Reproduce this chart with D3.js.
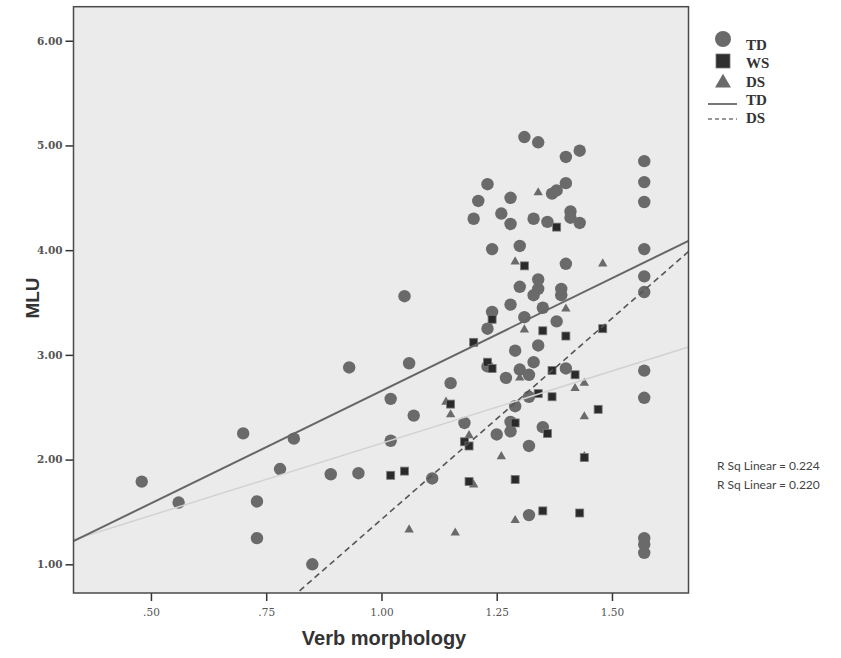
<!DOCTYPE html>
<html>
<head>
<meta charset="utf-8">
<script src="https://cdn.jsdelivr.net/npm/d3@7"></script>
<style>
  html, body { margin: 0; padding: 0; background: #ffffff; }
  svg { display: block; }
</style>
</head>
<body>
<svg id="chart" width="841" height="658"></svg>
<script>
// Verb morphology (x) against MLU (y) for three groups.
const tdPoints = [
  [0.48,1.79],[0.56,1.59],[0.70,2.25],[0.73,1.60],[0.73,1.25],[0.78,1.91],[0.81,2.20],
  [0.85,1.00],[0.89,1.86],[0.93,2.88],[0.95,1.87],[1.02,2.58],[1.02,2.18],[1.05,3.56],
  [1.06,2.92],[1.07,2.42],[1.11,1.82],[1.15,2.73],[1.18,2.35],[1.23,3.25],[1.23,2.89],
  [1.24,3.41],[1.25,2.24],[1.28,2.27],[1.28,3.48],[1.28,2.36],[1.29,3.04],[1.29,2.51],
  [1.30,2.86],[1.31,3.36],[1.32,2.81],[1.32,2.13],[1.32,2.60],[1.32,1.47],[1.27,2.78],
  [1.33,2.93],[1.34,3.09],[1.35,2.31],[1.35,3.45],[1.38,3.32],[1.40,2.87],[1.57,2.85],
  [1.57,2.59],[1.57,1.25],[1.57,1.19],[1.57,1.11],[1.31,5.08],[1.34,5.03],[1.40,4.89],
  [1.43,4.95],[1.57,4.85],[1.57,4.65],[1.57,4.46],[1.23,4.63],[1.40,4.64],[1.37,4.54],
  [1.38,4.57],[1.21,4.47],[1.28,4.50],[1.20,4.30],[1.26,4.35],[1.28,4.25],[1.33,4.30],
  [1.36,4.27],[1.41,4.37],[1.41,4.31],[1.43,4.26],[1.24,4.01],[1.30,4.04],[1.57,4.01],
  [1.40,3.87],[1.57,3.75],[1.57,3.60],[1.30,3.65],[1.34,3.72],[1.34,3.63],[1.33,3.57],
  [1.39,3.63],[1.39,3.57]
];
const wsPoints = [
  [1.02,1.85],[1.05,1.89],[1.24,3.34],[1.35,3.23],[1.40,3.18],[1.48,3.25],[1.20,3.12],
  [1.23,2.93],[1.24,2.87],[1.37,2.85],[1.42,2.81],[1.15,2.53],[1.34,2.63],[1.37,2.60],
  [1.47,2.48],[1.29,2.35],[1.36,2.25],[1.18,2.17],[1.19,2.13],[1.44,2.02],[1.19,1.79],
  [1.29,1.81],[1.35,1.51],[1.43,1.49],[1.31,3.85],[1.38,4.22]
];
const dsPoints = [
  [1.06,1.33],[1.16,1.30],[1.29,1.42],[1.40,3.44],[1.31,3.24],[1.30,2.78],[1.44,2.73],
  [1.42,2.68],[1.14,2.55],[1.15,2.43],[1.44,2.41],[1.19,2.23],[1.26,2.03],[1.44,2.03],
  [1.20,1.76],[1.34,4.55],[1.29,3.89],[1.48,3.87]
];

// Linear fit lines: [intercept, slope]
const fitTD = [0.507, 2.15];
const fitWS = [0.776, 1.38];
const fitDS = [-2.411, 3.84];

const xTicks = [0.50, 0.75, 1.00, 1.25, 1.50];
const xTickLabels = [".50", ".75", "1.00", "1.25", "1.50"];
const yTicks = [1, 2, 3, 4, 5, 6];
const yTickLabels = ["1.00", "2.00", "3.00", "4.00", "5.00", "6.00"];

const legendItems = ["TD", "WS", "DS", "TD", "DS"];
const rSqLabels = ["R Sq Linear = 0.224", "R Sq Linear = 0.220"];

const svg = d3.select("#chart");
const area = { left: 73.5, right: 688.5, top: 6.7, bottom: 593 };

const x = d3.scaleLinear().domain([0.332, 1.666]).range([area.left, area.right]);
const y = d3.scaleLinear().domain([0.726, 6.325]).range([area.bottom, area.top]);

svg.append("defs").append("clipPath").attr("id", "plotClip")
  .append("rect")
  .attr("x", area.left).attr("y", area.top)
  .attr("width", area.right - area.left).attr("height", area.bottom - area.top);

// plot background
svg.append("rect")
  .attr("x", area.left).attr("y", area.top)
  .attr("width", area.right - area.left).attr("height", area.bottom - area.top)
  .attr("fill", "#ebebeb");

// axes
const yAxis = d3.axisLeft(y).tickValues(yTicks).tickSize(8).tickPadding(3)
  .tickFormat((d, i) => yTickLabels[i]);
const gy = svg.append("g").attr("transform", `translate(${area.left},0)`).call(yAxis);
gy.select(".domain").remove();
gy.selectAll(".tick line").attr("stroke", "#333").attr("stroke-width", 1.5);
gy.selectAll(".tick text")
  .attr("font-family", "'DejaVu Serif', serif").attr("font-size", 10.5)
  .attr("font-weight", "bold").attr("fill", "#555");

const xAxis = d3.axisBottom(x).tickValues(xTicks).tickSize(8).tickPadding(8)
  .tickFormat((d, i) => xTickLabels[i]);
const gx = svg.append("g").attr("transform", `translate(0,${area.bottom})`).call(xAxis);
gx.select(".domain").remove();
gx.selectAll(".tick line").attr("stroke", "#333").attr("stroke-width", 1.5);
gx.selectAll(".tick text")
  .attr("font-family", "'DejaVu Serif', serif").attr("font-size", 10.5)
  .attr("fill", "#555");

// points
const pts = svg.append("g").attr("clip-path", "url(#plotClip)");
pts.selectAll("circle.td").data(tdPoints).join("circle")
  .attr("class", "td")
  .attr("cx", d => x(d[0])).attr("cy", d => y(d[1])).attr("r", 6.2)
  .attr("fill", "#6a6a6a");

const tri = d3.symbol().type(d3.symbolTriangle).size(38);
pts.selectAll("path.ds").data(dsPoints).join("path")
  .attr("class", "ds")
  .attr("d", tri)
  .attr("transform", d => `translate(${x(d[0])},${y(d[1])})`)
  .attr("fill", "#6a6a6a");

const sq = 8;
pts.selectAll("rect.ws").data(wsPoints).join("rect")
  .attr("class", "ws")
  .attr("x", d => x(d[0]) - sq / 2).attr("y", d => y(d[1]) - sq / 2)
  .attr("width", sq).attr("height", sq)
  .attr("fill", "#2a2a2a").attr("stroke", "#7a7a7a").attr("stroke-width", 0.8);

// fit lines
const fitLine = f => [[x.domain()[0], f[0] + f[1] * x.domain()[0]], [x.domain()[1], f[0] + f[1] * x.domain()[1]]];
const lineGen = d3.line().x(d => x(d[0])).y(d => y(d[1]));
const lines = svg.append("g").attr("clip-path", "url(#plotClip)");
lines.append("path").attr("d", lineGen(fitLine(fitWS)))
  .attr("stroke", "#d2d2d2").attr("stroke-width", 1.5).attr("fill", "none");
lines.append("path").attr("d", lineGen(fitLine(fitTD)))
  .attr("stroke", "#666").attr("stroke-width", 2).attr("fill", "none");
lines.append("path").attr("d", lineGen(fitLine(fitDS)))
  .attr("stroke", "#555").attr("stroke-width", 1.6).attr("fill", "none")
  .attr("stroke-dasharray", "6,4");

// plot border
svg.append("rect")
  .attr("x", area.left).attr("y", area.top)
  .attr("width", area.right - area.left).attr("height", area.bottom - area.top)
  .attr("fill", "none").attr("stroke", "#4a4a4a").attr("stroke-width", 1.5);

// axis titles
svg.append("text")
  .attr("transform", "translate(39,298) rotate(-90)")
  .attr("text-anchor", "middle")
  .attr("font-family", "'Liberation Sans', Arial, sans-serif")
  .attr("font-weight", "bold").attr("font-size", 19).attr("fill", "#333")
  .text("MLU");
svg.append("text")
  .attr("x", 384).attr("y", 645)
  .attr("text-anchor", "middle")
  .attr("font-family", "'Liberation Sans', Arial, sans-serif")
  .attr("font-weight", "bold").attr("font-size", 20).attr("fill", "#333")
  .text("Verb morphology");

// legend
const lg = svg.append("g");
const symY = [39, 61, 83, 104, 119];
const labY = [45, 63, 81.5, 100, 118];
lg.append("circle").attr("cx", 723).attr("cy", symY[0]).attr("r", 8).attr("fill", "#6a6a6a");
lg.append("rect").attr("x", 716).attr("y", symY[1] - 7).attr("width", 14).attr("height", 14)
  .attr("fill", "#2f2f2f").attr("stroke", "#777").attr("stroke-width", 0.8);
lg.append("path").attr("d", d3.symbol().type(d3.symbolTriangle).size(110))
  .attr("transform", `translate(723,${symY[2]})`).attr("fill", "#6a6a6a");
lg.append("line").attr("x1", 708).attr("x2", 737).attr("y1", symY[3]).attr("y2", symY[3])
  .attr("stroke", "#777").attr("stroke-width", 2);
lg.append("line").attr("x1", 708).attr("x2", 737).attr("y1", symY[4]).attr("y2", symY[4])
  .attr("stroke", "#777").attr("stroke-width", 1.3).attr("stroke-dasharray", "4,3");
lg.selectAll("text.lab").data(legendItems).join("text")
  .attr("class", "lab")
  .attr("x", 746).attr("y", (d, i) => labY[i]).attr("dy", "0.35em")
  .attr("font-family", "'Liberation Serif', 'Times New Roman', serif")
  .attr("font-weight", "bold").attr("font-size", 15).attr("fill", "#333")
  .text(d => d);

// R squared notes
svg.selectAll("text.rsq").data(rSqLabels).join("text")
  .attr("class", "rsq")
  .attr("x", 717).attr("y", (d, i) => 466 + i * 19).attr("dy", "0.35em")
  .attr("font-family", "Lato, 'Open Sans', sans-serif")
  .attr("font-size", 12).attr("fill", "#444")
  .text(d => d);
</script>
</body>
</html>
